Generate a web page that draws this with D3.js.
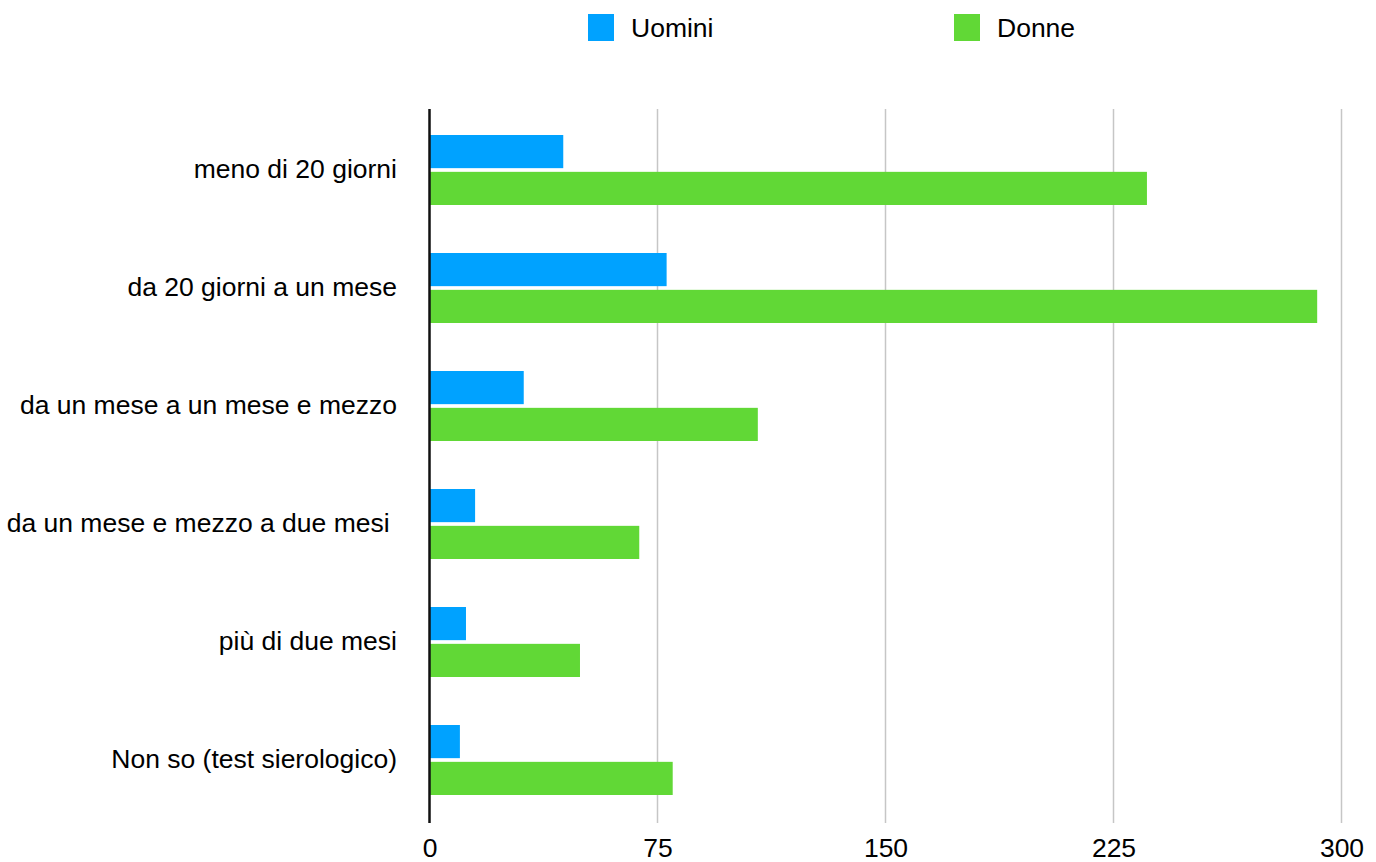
<!DOCTYPE html>
<html>
<head>
<meta charset="utf-8">
<script src="https://cdn.jsdelivr.net/npm/d3@7"></script>
<style>
  html, body { margin: 0; padding: 0; background: #fff; }
  svg { display: block; font-family: "Liberation Sans", Arial, Helvetica, sans-serif; }
  text { white-space: pre; }
</style>
</head>
<body>
<svg id="chart" width="1376" height="862"></svg>
<script>
const categories = [
  "meno di 20 giorni",
  "da 20 giorni a un mese",
  "da un mese a un mese e mezzo",
  "da un mese e mezzo a due mesi ",
  "più di due mesi",
  "Non so (test sierologico)"
];
const seriesNames = ["Uomini", "Donne"];
const uomini = [44, 78, 31, 15, 12, 10];
const donne = [236, 292, 108, 69, 49.5, 80];
const tickValues = [0, 75, 150, 225, 300];
const colors = ["#00A2FF", "#61D836"];

const svg = d3.select("#chart");
const plotTop = 109, plotBottom = 823;
const fontSize = 26.5;

const x = d3.scaleLinear().domain([0, 300]).range([429.5, 1341.5]);
const y = d3.scaleBand().domain(categories).range([108, 822]).paddingInner(0.4068).paddingOuter(0.2288);
const ySub = d3.scaleBand().domain(seriesNames).range([0, y.bandwidth()]).paddingInner(0.1);
const color = d3.scaleOrdinal().domain(seriesNames).range(colors);

// gridlines
svg.append("g")
  .selectAll("line")
  .data(tickValues.filter(d => d !== 0))
  .join("line")
  .attr("x1", d => x(d)).attr("x2", d => x(d))
  .attr("y1", plotTop).attr("y2", plotBottom)
  .attr("stroke", "#c6c6c6").attr("stroke-width", 1.5);

// bars
const rows = categories.map((c, i) => ({cat: c, values: [uomini[i], donne[i]]}));
const groups = svg.append("g").selectAll("g")
  .data(rows).join("g")
  .attr("transform", d => `translate(0,${y(d.cat)})`);
groups.selectAll("rect")
  .data(d => d.values.map((v, j) => ({name: seriesNames[j], value: v})))
  .join("rect")
  .attr("x", x(0))
  .attr("y", d => ySub(d.name))
  .attr("width", d => x(d.value) - x(0))
  .attr("height", ySub.bandwidth())
  .attr("fill", d => color(d.name));

// axis line at zero
svg.append("line")
  .attr("x1", x(0)).attr("x2", x(0))
  .attr("y1", plotTop).attr("y2", plotBottom)
  .attr("stroke", "#111").attr("stroke-width", 2.5);

// y axis (category labels)
const yAxis = d3.axisLeft(y).tickSize(0).tickPadding(0);
const yg = svg.append("g").attr("transform", `translate(397,0)`).call(yAxis);
yg.select(".domain").remove();
yg.selectAll("text")
  .attr("font-size", fontSize)
  .attr("font-family", "'Liberation Sans', Arial, sans-serif")
  .attr("fill", "#000")
  .attr("dy", "0.32em")
  .attr("x", 0);

// x axis tick labels
const xAxis = d3.axisBottom(x).tickValues(tickValues).tickSize(0).tickPadding(0).tickFormat(d3.format("d"));
const xg = svg.append("g").attr("transform", `translate(0,${plotBottom})`).call(xAxis);
xg.select(".domain").remove();
xg.selectAll("text")
  .attr("font-size", fontSize)
  .attr("font-family", "'Liberation Sans', Arial, sans-serif")
  .attr("fill", "#000")
  .attr("y", 34)
  .attr("dy", 0);

// legend
const legendX = [588, 954];
const legend = svg.append("g").selectAll("g")
  .data(seriesNames).join("g")
  .attr("transform", (d, i) => `translate(${legendX[i]},14)`);
legend.append("rect")
  .attr("width", 26).attr("height", 27)
  .attr("fill", d => color(d));
legend.append("text")
  .attr("x", 43).attr("y", 23)
  .attr("font-size", fontSize)
  .attr("fill", "#000")
  .text(d => d);
</script>
</body>
</html>
